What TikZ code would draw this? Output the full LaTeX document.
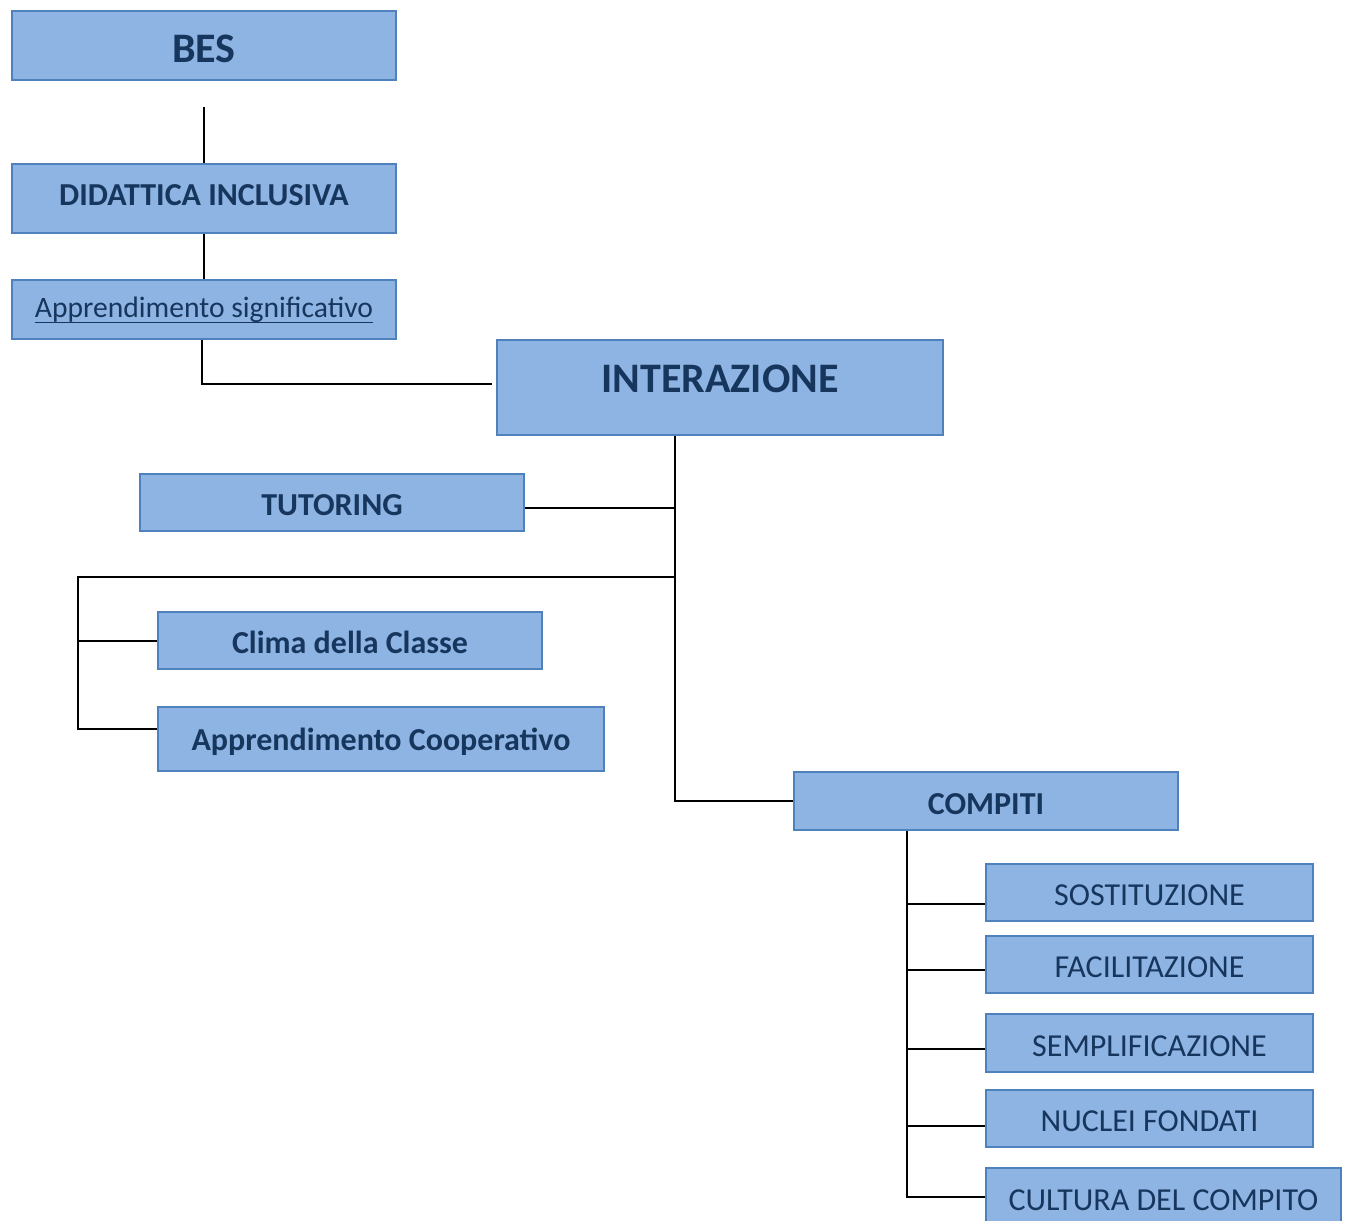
\documentclass[tikz,border=0pt]{standalone}
\usepackage{fontspec}
\setmainfont{Carlito}
\usetikzlibrary{calc}
\definecolor{fillc}{HTML}{8EB4E3}
\definecolor{bordc}{HTML}{4F81BD}
\definecolor{txtc}{HTML}{17365D}
\newcommand{\myul}[1]{\setbox0\hbox{#1}\rlap{\rule[-3.2pt]{\wd0}{0.8pt}}\box0}
\tikzset{
  box/.style={draw=bordc, fill=fillc, line width=1pt, inner sep=0pt, text=txtc, align=center},
  bigb/.style={font=\fontsize{21}{25}\selectfont\bfseries, text height=16.5pt, text depth=0pt},
  medb/.style={font=\fontsize{16}{19}\selectfont\bfseries, text height=13.3pt, text depth=0pt},
  medr/.style={font=\fontsize{16}{19}\selectfont, text height=13.3pt, text depth=0pt},
  smr/.style={font=\fontsize{14.8}{18}\selectfont, text height=7.5pt, text depth=0pt},
  conn/.style={draw=black, line width=1pt}
}
\begin{document}
\begin{tikzpicture}[x=0.5pt,y=-0.5pt]
\clip (0,0) rectangle (1351,1221);
\fill[white] (0,0) rectangle (1351,1221);
% top column
\node[box,bigb,minimum width=192pt,minimum height=34.5pt] (BES) at (204,45.5) {BES};
\node[box,medb,text height=7pt,minimum width=192pt,minimum height=34.5pt] (DID) at (204,198.5) {DIDATTICA INCLUSIVA};
\node[box,smr,minimum width=192pt,minimum height=29.5pt] (APS) at (204,309.5) {\myul{Apprendimento significativo}};
\node[box,minimum width=223pt,minimum height=47.5pt,
  label={[font=\fontsize{21}{25}\selectfont\bfseries,text=txtc,yshift=4.5pt]center:INTERAZIONE}] (INT) at (720,387.5) {};
% left branch
\node[box,medb,minimum width=192pt,minimum height=28.5pt] (TUT) at (332,502.5) {TUTORING};
\node[box,medb,minimum width=192pt,minimum height=28.5pt] (CLI) at (350,640.5) {Clima della Classe};
\node[box,medb,text height=11pt,minimum width=223pt,minimum height=32pt] (APC) at (381,739) {Apprendimento Cooperativo};
% compiti
\node[box,medb,minimum width=192pt,minimum height=29pt] (COM) at (986,801) {COMPITI};
\node[box,medr,minimum width=163.5pt,minimum height=28.5pt] (SOS) at (1149.5,892.5) {SOSTITUZIONE};
\node[box,medr,minimum width=163.5pt,minimum height=28.5pt] (FAC) at (1149.5,964.5) {FACILITAZIONE};
\node[box,medr,minimum width=163.5pt,minimum height=29pt] (SEM) at (1149.5,1043) {SEMPLIFICAZIONE};
\node[box,medr,minimum width=163.5pt,minimum height=28.5pt] (NUC) at (1149.5,1118.5) {NUCLEI FONDATI};
\node[box,medr,minimum width=177.5pt,minimum height=29pt] (CUL) at (1163.5,1197) {CULTURA DEL COMPITO};
% coordinates
\coordinate (g1) at (204,107);
\coordinate (c1) at (492,384);
\coordinate (tr) at (675,0);
\coordinate (h1) at (675,577);
\coordinate (l1) at (78,577);
\coordinate (l2) at (78,729);
\coordinate (ct) at (907,0);
% connectors
\draw[conn] (g1) -- (DID.north);
\draw[conn] (DID.south) -- (APS.north);
\draw[conn] ([xshift=-1pt]APS.south) |- (c1);
\draw[conn] (INT.south -| tr) -- (tr |- COM.west) -- (COM.west);
\draw[conn] ([yshift=-2.75pt]TUT.east) -- ([yshift=-2.75pt]TUT.east -| tr);
\draw[conn] (h1) -- (l1) -- (l2) -- ([yshift=5pt]APC.west);
\draw[conn] (l1 |- CLI.west) -- (CLI.west);
\draw[conn] (COM.south -| ct) -- (ct |- CUL.west) -- (CUL.west);
\draw[conn] (ct |- 0,904) -- ([yshift=-5.75pt]SOS.west);
\draw[conn] (ct |- 0,970) -- ([yshift=-2.75pt]FAC.west);
\draw[conn] (ct |- 0,1049) -- ([yshift=-3pt]SEM.west);
\draw[conn] (ct |- 0,1126) -- ([yshift=-3.75pt]NUC.west);
\end{tikzpicture}
\end{document}
